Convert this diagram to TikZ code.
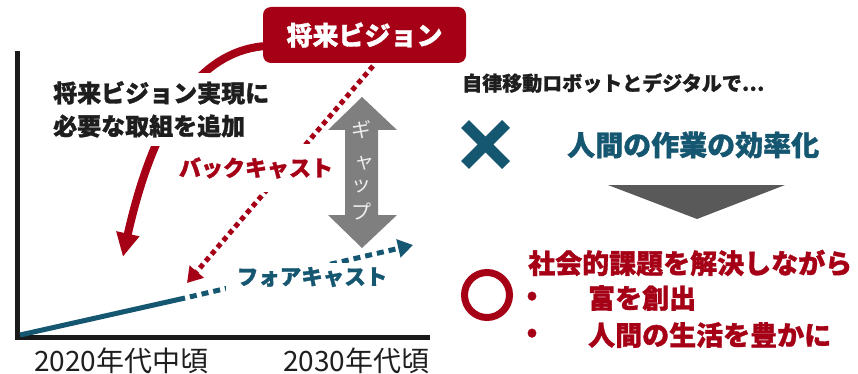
\documentclass[tikz,border=0pt]{standalone}
\usepackage{fontspec}
\setmainfont{Noto Sans CJK JP}[BoldFeatures={FakeBold=1.2}]
\usetikzlibrary{arrows.meta,bending}
\definecolor{vred}{RGB}{165,0,21}
\definecolor{vteal}{RGB}{21,86,112}
\definecolor{garrow}{RGB}{127,127,127}
\definecolor{dgray}{RGB}{89,89,89}
\definecolor{txtblack}{RGB}{30,30,30}
\definecolor{axisc}{RGB}{26,26,26}
\tikzset{
  bf/.style={font=\bfseries\fontsize{#1}{#1}\selectfont},
  rg/.style={font=\fontsize{#1}{#1}\selectfont},
  dotred/.style={vred, line width=5pt, dash pattern=on 5pt off 4pt},
  dotteal/.style={vteal, line width=5pt, dash pattern=on 7pt off 5pt, dash phase=7pt},
  tip/.style={-{Triangle[length=15pt,width=18pt]}},
  gapchar/.style={rg=20, text={rgb,255:red,238;green,238;blue,238}}
}
\begin{document}
\begin{tikzpicture}[x=1pt,y=-1pt, every node/.style={inner sep=0pt}]
\useasboundingbox (0,0) rectangle (858,374);

% axes
\coordinate (ytop) at (17,51);
\coordinate (orig) at (17,337.5);
\coordinate (xend) at (430,337.5);
\draw[axisc, line width=5pt] (ytop) -- (orig) -- (xend);

% forecast line
\coordinate (f0) at (20,335);
\coordinate (f1) at (185,298);
\coordinate (f2) at (413,245);
\draw[vteal, line width=5pt] (f0) -- (f1);
\draw[dotteal, tip] (f1) -- (f2);

% backcast line
\coordinate (b0) at (373,66);
\coordinate (b1) at (187,283);
\draw[dotred, tip] (b0) -- (b1);

% curved arrow
\coordinate (cs) at (266,46);
\coordinate (ce) at (123,257);
\draw[vred, line width=8pt, -{Triangle[length=24pt,width=22pt,bend]}] (cs) .. controls (205,50) and (152,108) .. (ce);

% text mask labels
\node[fill=white, align=left, anchor=north west, inner sep=8pt, text=txtblack,
      font=\bfseries\fontsize{24}{33}\selectfont] (need) at (45,73) {将来ビジョン実現に\\必要な取組を追加};
\node[fill=white, inner xsep=8pt, inner ysep=13pt, text=vred, bf=22] (bc) at (256,168) {バックキャスト};
\node[fill=white, inner xsep=11pt, inner ysep=4pt, text=vteal, bf=21.5] (fc) at (312,277) {フォアキャスト};

% vision box
\node[fill=vred, rounded corners=8pt, minimum width=203pt, minimum height=56pt, text=white, bf=26] (vision) at (364.5,35) {将来ビジョン};

% gap arrow
\fill[garrow] (362,97) -- (397,130) -- (378,130) -- (378,215) -- (397,215) -- (362,248)
  -- (328,215) -- (345,215) -- (345,130) -- (328,130) -- cycle;
\node[gapchar] (g1) at (361,130) {ギ};
\node[gapchar] (g2) at (364,163) {ャ};
\node[gapchar] (g3) at (361,186) {ッ};
\node[gapchar] (g4) at (361,212) {プ};

% axis labels
\node[anchor=west, rg=28, text=txtblack] (l1) at (34,361) {2020年代中頃};
\node[anchor=west, rg=28, text=txtblack] (l2) at (283,361) {2030年代頃};

% right side
\node[anchor=west, bf=20, text=txtblack] (head) at (462,83) {自律移動ロボットとデジタルで…};
\draw[vteal, line width=11pt] (465,124) -- (506,165) (465,165) -- (506,124);
\node[anchor=west, bf=28, text=vteal] (eff) at (567,145) {人間の作業の効率化};
\fill[dgray] (608,185) -- (785,185) -- (697,219) -- cycle;
\node[anchor=west, bf=27, text=vred] (soc) at (528,263) {社会的課題を解決しながら};
\draw[vred, line width=7pt] (487,295) circle (22.5pt);
\node[bf=27, text=vred] (d1) at (532,298) {•};
\node[bf=27, text=vred] (d2) at (532,335) {•};
\node[anchor=west, bf=27, text=vred] (w1) at (588,298) {富を創出};
\node[anchor=west, bf=27, text=vred] (w2) at (588,335) {人間の生活を豊かに};
\end{tikzpicture}
\end{document}
